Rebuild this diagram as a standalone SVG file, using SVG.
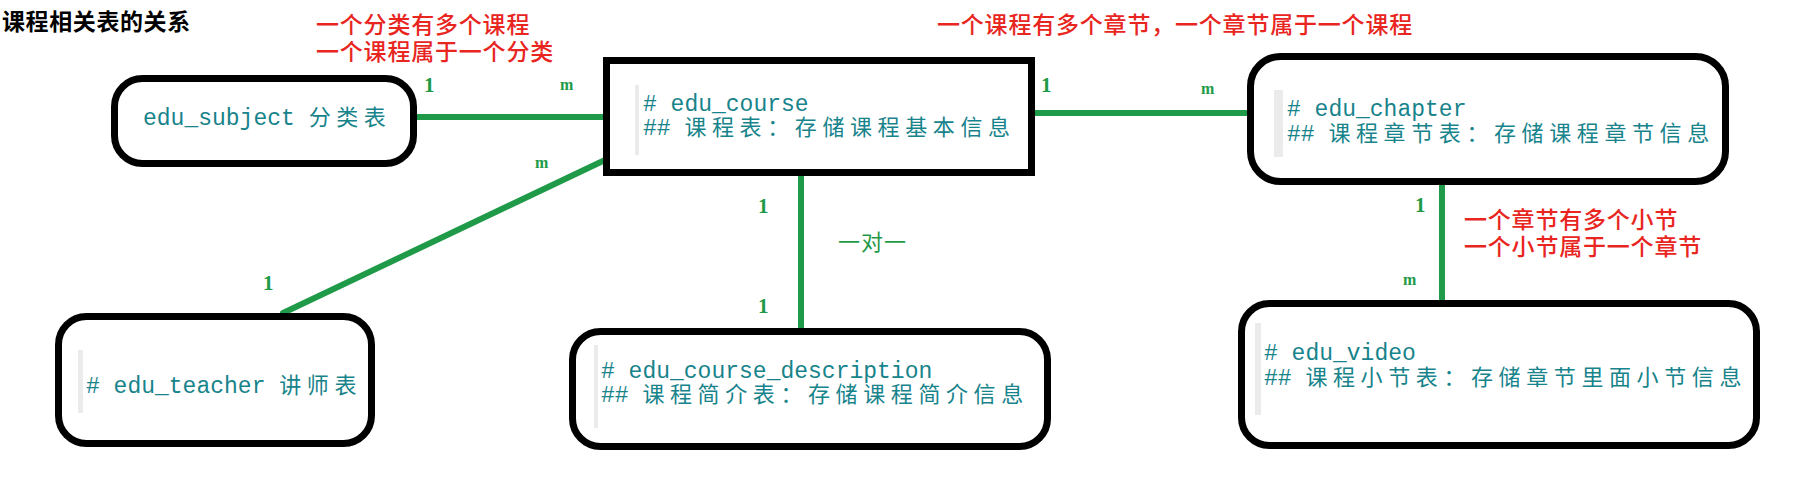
<svg xmlns="http://www.w3.org/2000/svg" width="1793" height="503" viewBox="0 0 1793 503">
<style>
  .box{fill:#fff;stroke:#000;stroke-width:7}
  .bar{fill:#ebebeb}
  .mono{font-family:"Liberation Mono","Noto Sans CJK SC",monospace;font-size:23px;fill:#17838b}
  .cjk{font-family:"Noto Sans CJK SC",sans-serif;font-size:22px;letter-spacing:5.6px}
  .red{font-family:"Noto Sans CJK SC",sans-serif;font-size:23px;font-weight:500;letter-spacing:0.8px;fill:#e8251e}
  .lbl{font-family:"Liberation Serif",serif;font-weight:bold;fill:#1f9a48}
  .one{font-size:21px}
  .m{font-size:16px}
  .conn line{stroke:#1f9a48;stroke-width:6;stroke-linecap:round}
  .title{font-family:"Noto Sans CJK SC",sans-serif;font-size:23px;font-weight:bold;letter-spacing:0.6px;fill:#000}
</style>
<rect width="1793" height="503" fill="#fff"/>
<text class="title" x="2" y="30">课程相关表的关系</text>
<text class="red" x="316" y="33">一个分类有多个课程</text>
<text class="red" x="316" y="60">一个课程属于一个分类</text>
<text class="red" x="937" y="33">一个课程有多个章节，一个章节属于一个课程</text>
<text class="red" x="1464" y="228">一个章节有多个小节</text>
<text class="red" x="1464" y="255">一个小节属于一个章节</text>

<g id="connectors" class="conn">
  <line x1="417" y1="117" x2="604" y2="117"/>
  <line x1="605" y1="160" x2="283" y2="313"/>
  <line x1="1035" y1="113" x2="1247" y2="113"/>
  <line x1="801" y1="176" x2="801" y2="328"/>
  <line x1="1442" y1="185" x2="1442" y2="300"/>
</g>
<g id="labels">
  <text class="lbl one" x="424" y="92">1</text>
  <text class="lbl m" x="560" y="90">m</text>
  <text class="lbl m" x="535" y="168">m</text>
  <text class="lbl one" x="263" y="290">1</text>
  <text class="lbl one" x="1041" y="92">1</text>
  <text class="lbl m" x="1201" y="94">m</text>
  <text class="lbl one" x="758" y="213">1</text>
  <text class="lbl one" x="758" y="313">1</text>
  <text x="838" y="250" font-family="Noto Sans CJK SC,sans-serif" font-size="22" fill="#1f9a48" letter-spacing="1">一对一</text>
  <text class="lbl one" x="1415" y="212">1</text>
  <text class="lbl m" x="1403" y="285">m</text>
</g>

<g id="edu_subject">
  <rect class="box" x="114.5" y="78.5" width="299" height="85" rx="28"/>
  <text class="mono" x="143" y="125">edu_subject <tspan class="cjk">分类表</tspan></text>
</g>
<g id="edu_course">
  <rect class="box" x="606.5" y="60.5" width="425" height="112"/>
  <rect class="bar" x="635" y="85" width="4" height="70"/>
  <text class="mono" x="643" y="111"># edu_course</text>
  <text class="mono" x="643" y="135">## <tspan class="cjk">课程表：存储课程基本信息</tspan></text>
</g>
<g id="edu_chapter">
  <rect class="box" x="1250.5" y="56.5" width="475" height="125" rx="30"/>
  <rect class="bar" x="1274" y="90" width="9" height="67"/>
  <text class="mono" x="1287" y="116"># edu_chapter</text>
  <text class="mono" x="1287" y="141">## <tspan class="cjk">课程章节表：存储课程章节信息</tspan></text>
</g>
<g id="edu_teacher">
  <rect class="box" x="58.5" y="316.5" width="313" height="127" rx="28"/>
  <rect class="bar" x="78" y="350" width="5" height="63"/>
  <text class="mono" x="86" y="393"># edu_teacher <tspan class="cjk">讲师表</tspan></text>
</g>
<g id="edu_course_description">
  <rect class="box" x="572.5" y="331.5" width="475" height="115" rx="28"/>
  <rect class="bar" x="594" y="345" width="4" height="83"/>
  <text class="mono" x="601" y="378"># edu_course_description</text>
  <text class="mono" x="601" y="402">## <tspan class="cjk">课程简介表：存储课程简介信息</tspan></text>
</g>
<g id="edu_video">
  <rect class="box" x="1241.5" y="303.5" width="515" height="142" rx="28"/>
  <rect class="bar" x="1255" y="323" width="6" height="92"/>
  <text class="mono" x="1264" y="360"># edu_video</text>
  <text class="mono" x="1264" y="385">## <tspan class="cjk">课程小节表：存储章节里面小节信息</tspan></text>
</g>
</svg>
